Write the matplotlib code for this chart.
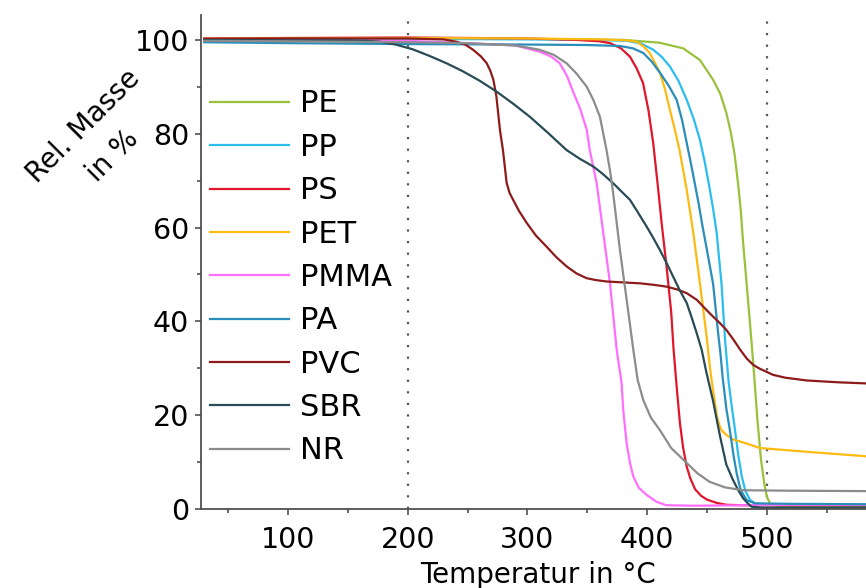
import numpy as np
import matplotlib
matplotlib.use('Agg')
import matplotlib.pyplot as plt
from matplotlib.ticker import MultipleLocator

plt.rcParams['font.family'] = ['DejaVu Sans']

# TGA-Kurven: Temperatur in °C, relative Masse in %
t_pe = [30, 100, 200, 300, 380, 410, 430, 444, 455, 461, 466, 470, 473, 476, 478, 480, 483, 486, 489, 492, 495, 498, 500, 503, 510, 540, 590]
m_pe = [100.2, 100.3, 100.3, 100.2, 100.0, 99.4, 98.2, 95.7, 91.5, 88.5, 84.5, 80, 75.5, 69, 64, 57, 48, 39, 29.5, 19, 10.5, 5, 2.5, 1.0, 0.6, 0.5, 0.5]

t_pp = [30, 100, 200, 300, 350, 383, 395, 405, 412, 419, 426, 433, 439, 444, 448, 452, 455, 458, 462, 465, 468, 470.5, 473.3, 476, 479, 482, 486, 490, 500, 590]
m_pp = [100, 100.2, 100.2, 100.1, 100, 99.8, 99.2, 97.9, 96.4, 94.3, 91.3, 87.2, 83, 78.7, 74, 68.5, 64, 58.8, 48.1, 36, 27, 22, 16.8, 11.5, 6.9, 3.8, 1.9, 1.2, 1.0, 0.9]

t_ps = [30, 100, 200, 300, 340, 360, 369, 378, 385.6, 391, 396.5, 401, 405, 409, 412, 416, 420, 422, 424.6, 427.3, 430, 433, 436, 440, 445, 450, 458, 466, 480, 590]
m_ps = [100.3, 100.4, 100.5, 100.3, 100, 99.7, 99.3, 98.2, 96.4, 94, 90.8, 85, 78, 68.5, 61, 52, 42, 34, 26, 18.3, 13, 9, 6.5, 4.2, 2.8, 2, 1.3, 0.9, 0.8, 0.8]

t_pet = [30, 100, 200, 300, 360, 383, 391, 397, 402, 406, 410.6, 415, 419, 423, 427, 433, 438.5, 444, 449.6, 452, 454, 456, 458, 460, 462, 466, 472, 480, 494, 533, 590]
m_pet = [100.2, 100.3, 100.4, 100.3, 100.1, 99.9, 99.6, 98.6, 97.2, 95.3, 93, 89.3, 85, 80.9, 76.5, 68, 58.8, 48.1, 36.7, 31, 27, 23.5, 20, 18, 16.8, 15.8, 14.8, 14.2, 13, 12.2, 11.1]

t_pmma = [30, 100, 200, 250, 290, 310, 320, 327, 333, 338, 344, 349.5, 352, 357.8, 363.3, 368.9, 374.5, 378.5, 380, 382.8, 385.6, 388.4, 393, 399.5, 408, 416, 440, 480, 520, 590]
m_pmma = [100, 100, 99.8, 99.3, 98.8, 97.5, 96.4, 95, 92.3, 89, 85.3, 80.8, 76.5, 69.4, 58.8, 48.1, 33.9, 27, 21, 14, 9.8, 6.9, 4.5, 3, 1.5, 0.8, 0.7, 0.8, 0.9, 0.9]

t_pa = [30, 100, 200, 300, 350, 377, 388, 396.7, 404, 410.6, 418, 424.6, 429, 433, 437, 440, 443, 446, 450, 455, 459.4, 461, 463, 466, 469, 472, 474.7, 478, 483, 490, 520, 590]
m_pa = [99.5, 99.3, 99.1, 99, 98.9, 98.7, 98.2, 97.2, 95.3, 93, 90.2, 87.2, 83, 78, 73, 69, 65, 60.5, 55, 48, 37, 33.5, 28, 21.5, 16.8, 11.5, 7.6, 4, 1.9, 1.2, 1.1, 1.0]

t_pvc = [30, 100, 200, 230, 240.6, 248, 254.5, 261, 266, 269, 271.5, 274, 277, 279.5, 282.6, 285, 288, 293, 299.3, 307, 316, 324, 332.7, 341, 349.4, 357, 366, 380, 394, 405, 416, 425, 433, 441.3, 449.6, 455, 460.8, 466, 472, 477.5, 483, 488.6, 494, 500, 505, 515, 533, 560, 590]
m_pvc = [100.2, 100.3, 100.3, 100.1, 99.6, 99, 97.9, 96.5, 95, 93.4, 91.5, 88, 80.8, 76.5, 69.5, 67.4, 65.9, 63.5, 61, 58.3, 55.9, 53.7, 51.7, 50.2, 49.2, 48.8, 48.5, 48.3, 48.1, 47.8, 47.4, 46.8, 46, 44.6, 42.4, 41, 39.6, 38.2, 36.1, 34, 32.1, 30.7, 29.9, 29.2, 28.6, 28, 27.4, 27, 26.7]

t_sbr = [30, 100, 150, 166, 177, 190, 204, 218, 232.5, 246, 260, 274, 288, 302, 317, 332.7, 344, 355, 363, 371.7, 378, 385.6, 392, 399.5, 405, 410.6, 416, 421.7, 427, 433, 437, 441.3, 445.5, 449.5, 455, 460.8, 466, 471.6, 476, 480, 484, 487, 495, 590]
m_sbr = [100, 99.9, 99.9, 99.8, 99.6, 99, 98, 96.6, 95, 93.3, 91.3, 89, 86.4, 83.6, 80.2, 76.5, 74.6, 73, 71.4, 69.4, 67.8, 65.9, 63.3, 60.2, 57.8, 55.2, 52.5, 49.5, 46.7, 43.9, 40.9, 37.5, 33.9, 29, 23, 15.5, 9.5, 6.2, 4, 2.3, 1.2, 0.5, 0.3, 0.3]

t_nr = [30, 100, 200, 250, 290, 310, 322, 332.7, 341, 349.5, 355, 360.5, 366, 369, 371.7, 377.2, 382.8, 388.4, 392, 396.7, 403, 410.6, 420, 433, 442, 452, 465, 480, 520, 590]
m_nr = [99.8, 99.7, 99.5, 99.3, 98.8, 97.9, 96.8, 95, 92.8, 90, 87.2, 83.6, 76.5, 72, 67, 55.2, 44.6, 33.9, 27.5, 23.2, 19.5, 16.8, 13, 9.8, 7.6, 5.8, 4.6, 4, 3.9, 3.8]

namen = ['PE', 'PP', 'PS', 'PET', 'PMMA', 'PA', 'PVC', 'SBR', 'NR']
farben = ['#98C23C', '#2BBDF0', '#E0162B', '#FDBA12', '#FF6EFF', '#2A8DBA', '#8E1B1B', '#284B55', '#8C8C8C']
kurven = [(t_pe, m_pe), (t_pp, m_pp), (t_ps, m_ps), (t_pet, m_pet), (t_pmma, m_pmma),
          (t_pa, m_pa), (t_pvc, m_pvc), (t_sbr, m_sbr), (t_nr, m_nr)]

fig = plt.figure(figsize=(8.66, 5.88), dpi=100)
ax = fig.add_axes([201/866, 79/588, 674/866, 494/588])

for (t, m), name, c in zip(kurven, namen, farben):
    ax.plot(t, m, color=c, lw=1.6, label=name)

# gepunktete Hilfslinien bei 200 und 500 °C
for xv in [200, 500]:
    ax.axvline(xv, color='#555555', lw=1.6, ls=(0, (1, 4.2)), zorder=0)

ax.set_xlim(27.35, 590.2)
ax.set_ylim(0, 105.3)
ax.xaxis.set_major_locator(MultipleLocator(100))
ax.xaxis.set_minor_locator(MultipleLocator(50))
ax.yaxis.set_major_locator(MultipleLocator(20))
ax.yaxis.set_minor_locator(MultipleLocator(10))

for s in ['top', 'right']:
    ax.spines[s].set_visible(False)
for s in ['left', 'bottom']:
    ax.spines[s].set_color('#505050')
    ax.spines[s].set_linewidth(1.3)
ax.tick_params(which='major', direction='out', length=4.5, width=1.2, color='#505050', labelsize=20.5)
ax.tick_params(axis='x', which='major', pad=8)
ax.tick_params(axis='y', which='major', pad=4)
ax.tick_params(which='minor', direction='out', length=3, width=1.2, color='#505050')

ax.set_xlabel('Temperatur in °C', fontsize=20, labelpad=5)
fig.text(0.113, 0.760, 'Rel. Masse\nin %', fontsize=20, rotation=45, ha='center', va='center',
         multialignment='center', linespacing=1.6)

ax.legend(loc='upper left', bbox_to_anchor=(210/866, 1 - 89.5/588), bbox_transform=fig.transFigure,
          frameon=False, fontsize=22, handlelength=2.6, handletextpad=0.33, labelspacing=0.47,
          borderpad=0, borderaxespad=0)

fig.savefig('out.png', dpi=100)
